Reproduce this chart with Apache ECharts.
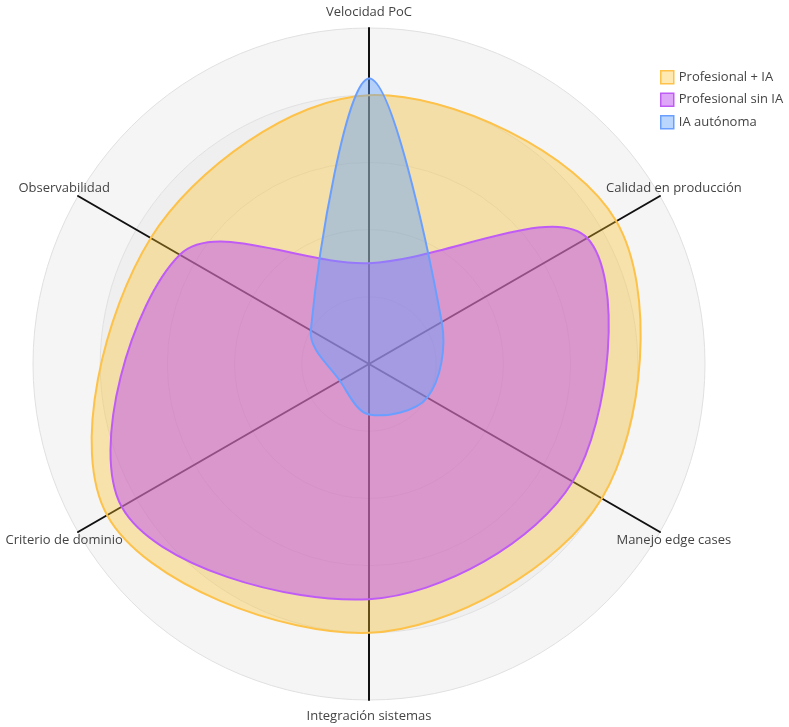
<!DOCTYPE html>
<html lang="es">
<head>
    <meta charset="UTF-8">
    <title>Radar</title>
    <script src="https://cdn.jsdelivr.net/npm/echarts@6/dist/echarts.min.js"></script>
    <style>
        html, body { margin: 0; padding: 0; background: #fff; }
        #main { width: 789px; height: 727px; }
    </style>
</head>
<body>
<div id="main"></div>
<script>
// ejes, en orden antihorario desde arriba
var indicadores = ['Velocidad PoC', 'Observabilidad', 'Criterio de dominio',
    'Integración sistemas', 'Manejo edge cases', 'Calidad en producción'];
var maxValor = 10;

var profesionalIA = [8, 7.5, 9, 8, 8, 8.5];
var profesionalSinIA = [3, 6.5, 8.5, 7, 7, 7.5];
var iaAutonoma = [8.5, 2, 1, 1.5, 2, 2.5];

var nombres = ['Profesional + IA', 'Profesional sin IA', 'IA autónoma'];
var lineas = ['#fdc24a', '#c05cf6', '#6b9fff'];
var rellenos = ['rgba(251,191,36,0.35)', 'rgba(192,80,240,0.5)', 'rgba(96,160,255,0.43)'];

var centro = [369, 364];
var radio = 336;
var paso = 360 / indicadores.length;

function serie(k, valores) {
    return {
        name: nombres[k],
        type: 'custom',
        coordinateSystem: 'polar',
        itemStyle: { color: lineas[k] },
        data: valores.map(function (v, i) { return [v, i * paso]; }),
        renderItem: function (params, api) {
            if (params.dataIndex !== 0) return;
            var puntos = valores.map(function (v, i) {
                return api.coord([v, i * paso]);
            });
            return {
                type: 'polygon',
                shape: { points: puntos, smooth: 0.34 },
                style: { fill: rellenos[k], stroke: lineas[k], lineWidth: 2 }
            };
        }
    };
}

var myChart = echarts.init(document.getElementById('main'));
myChart.setOption({
    animation: false,
    textStyle: { fontFamily: 'Open Sans' },
    legend: {
        orient: 'vertical',
        left: 655,
        top: 65,
        itemWidth: 13,
        itemHeight: 13,
        itemGap: 8,
        itemTextGap: 5,
        textStyle: { color: '#444', fontSize: 13, fontFamily: 'Open Sans' },
        data: nombres.map(function (n, k) {
            return {
                name: n,
                icon: 'rect',
                itemStyle: { color: rellenos[k], borderColor: lineas[k], borderWidth: 1.5 }
            };
        })
    },
    radar: {
        center: centro,
        radius: radio,
        shape: 'circle',
        splitNumber: 5,
        startAngle: 90,
        axisNameGap: 16,
        axisName: {
            color: '#444',
            fontSize: 13,
            fontFamily: 'Open Sans',
            align: 'center',
            verticalAlign: 'middle'
        },
        indicator: indicadores.map(function (n) { return { name: n, max: maxValor }; }),
        axisLine: { lineStyle: { color: '#111', width: 2 } },
        splitLine: { lineStyle: { color: '#e0e0e0', width: 1 } },
        splitArea: {
            show: true,
            areaStyle: { color: ['#f0f0f0', '#f0f0f0', '#f0f0f0', '#efefef', '#f5f5f5'] }
        }
    },
    polar: { center: centro, radius: radio },
    angleAxis: {
        type: 'value', min: 0, max: 360, startAngle: 90, clockwise: false, show: false
    },
    radiusAxis: { type: 'value', min: 0, max: maxValor, show: false },
    series: [
        serie(0, profesionalIA),
        serie(1, profesionalSinIA),
        serie(2, iaAutonoma)
    ]
});
</script>
</body>
</html>
